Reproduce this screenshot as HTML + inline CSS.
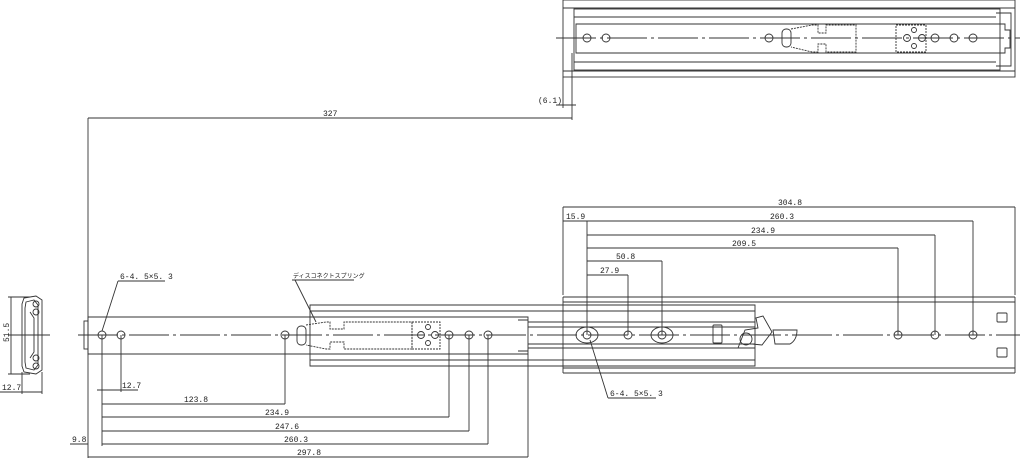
<!DOCTYPE html>
<html><head><meta charset="utf-8"><style>
html,body{margin:0;padding:0;background:#fff;}
svg{display:block}
text{font-family:"Liberation Mono","Noto Sans CJK JP",monospace;font-size:8px;fill:#222;}
</style></head><body>
<svg width="1024" height="460" viewBox="0 0 1024 460" xmlns="http://www.w3.org/2000/svg">
<g fill="none" stroke="#333" stroke-width="0.9">
<!-- TOP VIEW -->
<rect x="563" y="0" width="452" height="77"/>
<line x1="563" y1="8" x2="1015" y2="8"/>
<line x1="563" y1="71" x2="1015" y2="71"/>
<rect x="574" y="9" width="426" height="61"/>
<line x1="574" y1="17" x2="996" y2="17"/>
<line x1="574" y1="62" x2="996" y2="62"/>
<path d="M576 24 L1005 24 L1005 30 L1010 30 L1010 48 L1005 48 L1005 53 L576 53 Z"/>
<path d="M996 13 L1011 13 L1011 66 L996 66"/>
<line x1="556" y1="38" x2="1020" y2="38" stroke-dasharray="40,4,3,4"/>
<g>
<circle cx="587" cy="38" r="4"/><circle cx="606" cy="38" r="4"/><circle cx="769" cy="38" r="4"/>
<rect x="782" y="29" width="9" height="18" rx="4"/>
<path d="M791 29 L812 25 L818 25 L818 33 L826 33 L826 25 L856 25 L856 52 L826 52 L826 44 L818 44 L818 52 L812 52 L791 47" stroke-dasharray="2,1"/>
<rect x="896" y="25" width="30" height="27" stroke-dasharray="2,1"/>
<circle cx="907" cy="38" r="3.5"/><circle cx="922" cy="38" r="3.5"/><circle cx="914" cy="30" r="2.5"/><circle cx="914" cy="46" r="2.5"/>
<circle cx="935" cy="38" r="4"/><circle cx="954" cy="38" r="4"/><circle cx="973" cy="38" r="4"/>
</g>
<!-- 6.1 dim -->
<line x1="563" y1="77" x2="563" y2="108"/>
<line x1="572" y1="53" x2="572" y2="120"/>
<line x1="556" y1="105" x2="576" y2="105"/>
<!-- 327 -->
<line x1="88" y1="118" x2="572" y2="118"/>
<line x1="88" y1="118" x2="88" y2="458"/>

<!-- MAIN VIEW -->
<!-- outer member right -->
<line x1="563" y1="297" x2="1015" y2="297"/>
<line x1="563" y1="302" x2="1015" y2="302"/>
<line x1="563" y1="368" x2="1015" y2="368"/>
<line x1="563" y1="373" x2="1015" y2="373"/>
<line x1="563" y1="297" x2="563" y2="373"/>
<line x1="1015" y1="297" x2="1015" y2="373"/>
<rect x="997" y="313" width="10" height="9" rx="1"/>
<rect x="997" y="348" width="10" height="9" rx="1"/>
<!-- middle member -->
<path d="M310 305 L755 305 L755 366 L310 366 Z"/>
<line x1="310" y1="311" x2="755" y2="311"/>
<line x1="310" y1="360" x2="755" y2="360"/>
<!-- inner member -->
<path d="M88 317 L528 317 L528 354 L88 354 Z"/>
<line x1="528" y1="322" x2="755" y2="322"/>
<line x1="528" y1="348" x2="755" y2="348"/>
<line x1="528" y1="327" x2="755" y2="327"/>
<line x1="528" y1="344" x2="755" y2="344"/>
<path d="M518 320 L528 320 M518 351 L528 351"/>
<rect x="84" y="321" width="4" height="28"/>
<line x1="78" y1="335" x2="1020" y2="335" stroke-dasharray="40,4,3,4"/>
<!-- holes inner -->
<circle cx="102" cy="335" r="4"/><circle cx="121" cy="335" r="4"/><circle cx="285" cy="335" r="4"/>
<rect x="297" y="326" width="9" height="19" rx="4"/>
<path d="M306 325 L326 322 L330 322 L330 329 L344 329 L344 322 L412 322 L412 349 L344 349 L344 342 L330 342 L330 349 L326 349 L306 345" stroke-dasharray="2,1"/>
<rect x="412" y="322" width="28" height="27" stroke-dasharray="2,1"/>
<circle cx="421" cy="335" r="3.5"/><circle cx="435" cy="335" r="3.5"/><circle cx="428" cy="327" r="2.5"/><circle cx="428" cy="343" r="2.5"/>
<circle cx="449" cy="335" r="4"/><circle cx="469" cy="335" r="4"/><circle cx="488" cy="335" r="4"/>
<!-- right holes -->
<ellipse cx="587" cy="335" rx="11" ry="8"/><circle cx="587" cy="335" r="4"/>
<circle cx="628" cy="335" r="4"/>
<ellipse cx="662" cy="335" rx="11" ry="8"/><circle cx="662" cy="335" r="4"/>
<rect x="713" y="325" width="9" height="18" rx="1"/>
<circle cx="746" cy="339" r="6"/>
<path d="M738 348 L745 330 L758 328 L756 318 L763 316 L772 332 L762 345 L752 344"/>
<path d="M773 330 L797 330 Q797 340 790 344 L775 344 Z"/>
<circle cx="898" cy="335" r="4"/><circle cx="935" cy="335" r="4"/><circle cx="973" cy="335" r="4"/>
<!-- right dims -->
<line x1="563" y1="207" x2="1015" y2="207"/>
<line x1="563" y1="207" x2="563" y2="295"/>
<line x1="1015" y1="207" x2="1015" y2="295"/>
<line x1="563" y1="221" x2="973" y2="221"/><line x1="973" y1="221" x2="973" y2="335"/>
<line x1="587" y1="235" x2="935" y2="235"/><line x1="935" y1="235" x2="935" y2="335"/>
<line x1="587" y1="248" x2="898" y2="248"/><line x1="898" y1="248" x2="898" y2="335"/>
<line x1="587" y1="261" x2="662" y2="261"/><line x1="662" y1="261" x2="662" y2="335"/>
<line x1="587" y1="275" x2="628" y2="275"/><line x1="628" y1="275" x2="628" y2="335"/>
<line x1="587" y1="221" x2="587" y2="335"/>
<line x1="590" y1="340" x2="608" y2="398"/><line x1="608" y1="398" x2="656" y2="398"/>
<!-- bottom dims -->
<line x1="102" y1="335" x2="102" y2="446"/>
<line x1="121" y1="335" x2="121" y2="392"/>
<line x1="97" y1="390" x2="138" y2="390"/>
<line x1="102" y1="404" x2="285" y2="404"/><line x1="285" y1="335" x2="285" y2="404"/>
<line x1="102" y1="417" x2="449" y2="417"/><line x1="449" y1="335" x2="449" y2="417"/>
<line x1="102" y1="431" x2="469" y2="431"/><line x1="469" y1="335" x2="469" y2="431"/>
<line x1="102" y1="444" x2="488" y2="444"/><line x1="488" y1="335" x2="488" y2="444"/>
<line x1="70" y1="444" x2="88" y2="444"/>
<line x1="88" y1="457" x2="528" y2="457"/><line x1="528" y1="354" x2="528" y2="457"/>
<!-- leaders -->
<line x1="118" y1="281" x2="165" y2="281"/><line x1="118" y1="281" x2="102" y2="331"/>
<line x1="292" y1="280" x2="354" y2="280"/><line x1="295" y1="280" x2="316" y2="322"/>
<!-- end view -->
<line x1="11" y1="297" x2="11" y2="374"/>
<line x1="8" y1="297" x2="30" y2="297"/><line x1="8" y1="374" x2="30" y2="374"/>
<line x1="8" y1="335" x2="50" y2="335"/>
<path d="M24 298 L36 296 L42 300 L42 370 L36 374 L24 372 L22 366 L22 304 Z"/>
<path d="M26 302 L34 300 L38 305 L38 365 L34 370 L26 368 L25 362 L25 308 Z"/>
<path d="M30 312 L34 318 L34 352 L30 358"/>
<circle cx="36" cy="304" r="3"/><circle cx="36" cy="312" r="3"/><circle cx="36" cy="358" r="3"/><circle cx="36" cy="366" r="3"/>
<line x1="0" y1="392" x2="42" y2="392"/>
<line x1="22" y1="372" x2="22" y2="394"/><line x1="42" y1="372" x2="42" y2="394"/>
</g>
<g>
<text x="538" y="103">(6.1)</text>
<text x="323" y="116">327</text>
<text x="778" y="205">304.8</text>
<text x="566" y="219">15.9</text>
<text x="770" y="219">260.3</text>
<text x="751" y="233">234.9</text>
<text x="732" y="246">209.5</text>
<text x="616" y="259">50.8</text>
<text x="600" y="273">27.9</text>
<text x="610" y="396">6-4. 5×5. 3</text>
<text x="120" y="279">6-4. 5×5. 3</text>
<text x="293" y="278" style="font-size:6px">ディスコネクトスプリング</text>
<text x="122" y="388">12.7</text>
<text x="184" y="402">123.8</text>
<text x="265" y="415">234.9</text>
<text x="275" y="429">247.6</text>
<text x="284" y="442">260.3</text>
<text x="297" y="455">297.8</text>
<text x="72" y="442">9.8</text>
<text x="2" y="390">12.7</text>
<text x="0" y="0" transform="translate(9,342) rotate(-90)">51.5</text>
</g>
</svg>
</body></html>
